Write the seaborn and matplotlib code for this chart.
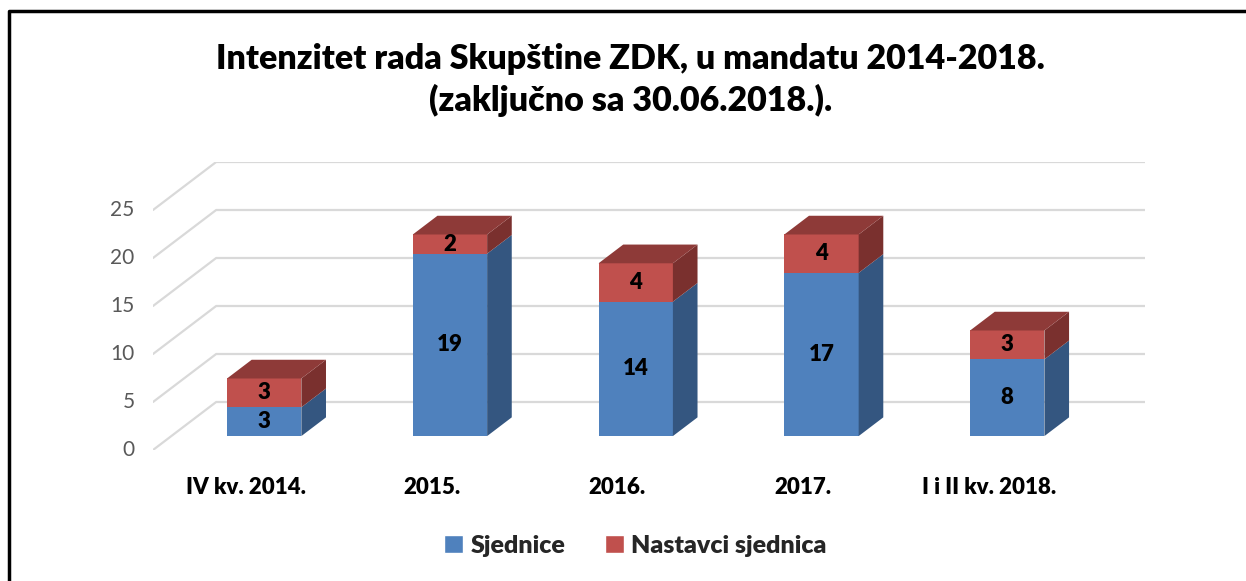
import matplotlib
matplotlib.use("Agg")
import matplotlib.pyplot as plt
import seaborn as sns
from matplotlib.patches import Polygon, Patch
from matplotlib.lines import Line2D

categories = ["IV kv. 2014.", "2015.", "2016.", "2017.", "I i II kv. 2018."]
sjednice = [3, 19, 14, 17, 8]
nastavci = [3, 2, 4, 4, 3]
y_ticks = [0, 5, 10, 15, 20, 25]
title = "Intenzitet rada Skupštine ZDK, u mandatu 2014-2018.\n(zaključno sa 30.06.2018.)."

BLUE = "#4F81BD"
BLUE_SIDE = "#345680"
RED = "#C0504D"
RED_TOP = "#8E3A38"
RED_SIDE = "#7A302E"
GRID = "#D9D9D9"

# fake 3d: full depth offset in data units, bar sits between depth Z0 and Z1
DX, DY = 0.34, 5.0
Z0, Z1 = 0.29, 0.68
BAR_W = 0.4

sns.set_theme(style="white")
plt.rcParams["font.family"] = ["Lato", "DejaVu Sans"]

fig = plt.figure(figsize=(12.46, 5.81), dpi=100)
ax = fig.add_axes([153 / 1246, 131 / 581, 992 / 1246, 288 / 581])

# back wall + side wall grid
for v in y_ticks:
    ax.plot([-0.5, -0.5 + DX, 4.5 + DX], [v, v + DY, v + DY], color=GRID, lw=1.6, zorder=0)

base = Z0 * DY
xpos = [i + Z0 * DX for i in range(len(categories))]
totals = [s + n for s, n in zip(sjednice, nastavci)]

sns.barplot(x=xpos, y=totals, bottom=base, native_scale=True, width=BAR_W,
            color=RED, saturation=1, linewidth=0, ax=ax, zorder=2)
sns.barplot(x=xpos, y=sjednice, bottom=base, native_scale=True, width=BAR_W,
            color=BLUE, saturation=1, linewidth=0, ax=ax, zorder=3)

d = (Z1 - Z0) * DX
e = (Z1 - Z0) * DY
for x, s, t, n in zip(xpos, sjednice, totals, nastavci):
    x0, x1 = x - BAR_W / 2, x + BAR_W / 2
    ax.add_patch(Polygon([(x1, base), (x1 + d, base + e), (x1 + d, base + s + e), (x1, base + s)],
                         closed=True, facecolor=BLUE_SIDE, lw=0, zorder=3))
    ax.add_patch(Polygon([(x1, base + s), (x1 + d, base + s + e), (x1 + d, base + t + e), (x1, base + t)],
                         closed=True, facecolor=RED_SIDE, lw=0, zorder=3))
    ax.add_patch(Polygon([(x0, base + t), (x1, base + t), (x1 + d, base + t + e), (x0 + d, base + t + e)],
                         closed=True, facecolor=RED_TOP, lw=0, zorder=3))
    ax.text(x, base + s / 2, str(s), ha="center", va="center", fontsize=16,
            fontweight="heavy", color="black", zorder=5)
    ax.text(x, base + s + n / 2, str(n), ha="center", va="center", fontsize=16,
            fontweight="heavy", color="black", zorder=5)

for v in y_ticks:
    ax.text(-0.6, v, str(v), ha="right", va="center", fontsize=15, color="#595959")
for i, c in enumerate(categories):
    ax.text(i, -3.9, c, ha="center", va="center", fontsize=16, fontweight="heavy", color="black")

ax.set_xlim(-0.5, 4.5 + DX)
ax.set_ylim(0, 25 + DY)
ax.axis("off")

fig.text(0.506, 1 - 80 / 581, title, ha="center", va="center", fontsize=24.5,
         fontweight="heavy", color="black", linespacing=1.3)

handles = [Patch(facecolor=BLUE), Patch(facecolor=RED)]
fig.legend(handles, ["Sjednice", "Nastavci sjednica"], loc="center",
           bbox_to_anchor=(0.51, 1 - 546 / 581), ncol=2, frameon=False,
           prop={"weight": "heavy", "size": 18}, handlelength=0.75, handleheight=0.75,
           columnspacing=1.6, handletextpad=0.3)

# chart frame (only top and left edges show in the original)
fig.add_artist(Line2D([9 / 1246, 9 / 1246, 1.0], [0.0, 1 - 11 / 581, 1 - 11 / 581],
                      color="black", lw=2.5, transform=fig.transFigure))

fig.savefig("out.png", dpi=100)
